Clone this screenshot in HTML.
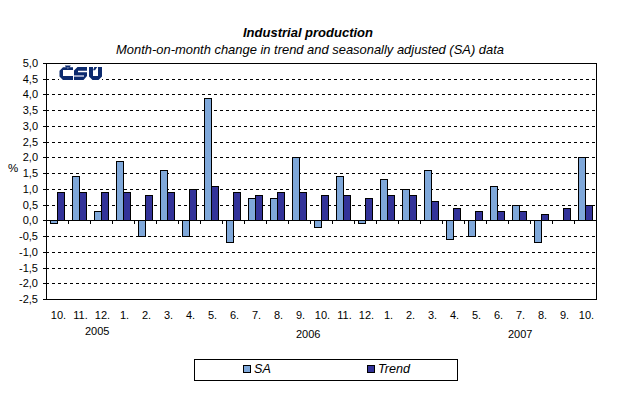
<!DOCTYPE html>
<html><head><meta charset="utf-8"><style>
html,body{margin:0;padding:0;background:#fff;}
body{width:618px;height:396px;position:relative;overflow:hidden;font-family:"Liberation Sans",sans-serif;color:#000;}
svg{position:absolute;left:0;top:0;}
.t{position:absolute;left:0;width:618px;text-align:center;white-space:nowrap;}
#title{top:25px;font-size:13px;font-weight:bold;font-style:italic;line-height:15px;left:-1px}
#sub{top:42px;font-size:12.93px;font-style:italic;line-height:15px;left:1px}
.yl{position:absolute;left:0;width:38px;text-align:right;font-size:11px;line-height:12px;}
.xl{position:absolute;top:309px;width:30px;text-align:center;font-size:11px;line-height:12px;}
.yr{position:absolute;top:325px;font-size:11px;line-height:12px;}
#pct{position:absolute;left:8px;top:162px;font-size:11.5px;line-height:12px;}
#legend{position:absolute;left:194px;top:359px;width:262px;height:20px;border:1px solid #000;box-sizing:content-box;}
.sw{position:absolute;top:5px;width:6px;height:6px;border:1px solid #000;}
.lt{position:absolute;top:2px;font-size:12.6px;font-style:italic;line-height:14px;}
</style></head><body>
<svg width="618" height="396" shape-rendering="crispEdges">
<line x1="46" y1="79.5" x2="596" y2="79.5" stroke="#000" stroke-dasharray="3 3"/>
<line x1="46" y1="94.5" x2="596" y2="94.5" stroke="#000" stroke-dasharray="3 3"/>
<line x1="46" y1="110.5" x2="596" y2="110.5" stroke="#000" stroke-dasharray="3 3"/>
<line x1="46" y1="126.5" x2="596" y2="126.5" stroke="#000" stroke-dasharray="3 3"/>
<line x1="46" y1="142.5" x2="596" y2="142.5" stroke="#000" stroke-dasharray="3 3"/>
<line x1="46" y1="157.5" x2="596" y2="157.5" stroke="#000" stroke-dasharray="3 3"/>
<line x1="46" y1="173.5" x2="596" y2="173.5" stroke="#000" stroke-dasharray="3 3"/>
<line x1="46" y1="189.5" x2="596" y2="189.5" stroke="#000" stroke-dasharray="3 3"/>
<line x1="46" y1="205.5" x2="596" y2="205.5" stroke="#000" stroke-dasharray="3 3"/>
<line x1="46" y1="236.5" x2="596" y2="236.5" stroke="#000" stroke-dasharray="3 3"/>
<line x1="46" y1="252.5" x2="596" y2="252.5" stroke="#000" stroke-dasharray="3 3"/>
<line x1="46" y1="268.5" x2="596" y2="268.5" stroke="#000" stroke-dasharray="3 3"/>
<line x1="46" y1="283.5" x2="596" y2="283.5" stroke="#000" stroke-dasharray="3 3"/>
<line x1="43" y1="63.5" x2="46" y2="63.5" stroke="#000"/>
<line x1="43" y1="79.5" x2="46" y2="79.5" stroke="#000"/>
<line x1="43" y1="94.5" x2="46" y2="94.5" stroke="#000"/>
<line x1="43" y1="110.5" x2="46" y2="110.5" stroke="#000"/>
<line x1="43" y1="126.5" x2="46" y2="126.5" stroke="#000"/>
<line x1="43" y1="142.5" x2="46" y2="142.5" stroke="#000"/>
<line x1="43" y1="157.5" x2="46" y2="157.5" stroke="#000"/>
<line x1="43" y1="173.5" x2="46" y2="173.5" stroke="#000"/>
<line x1="43" y1="189.5" x2="46" y2="189.5" stroke="#000"/>
<line x1="43" y1="205.5" x2="46" y2="205.5" stroke="#000"/>
<line x1="43" y1="220.5" x2="46" y2="220.5" stroke="#000"/>
<line x1="43" y1="236.5" x2="46" y2="236.5" stroke="#000"/>
<line x1="43" y1="252.5" x2="46" y2="252.5" stroke="#000"/>
<line x1="43" y1="268.5" x2="46" y2="268.5" stroke="#000"/>
<line x1="43" y1="283.5" x2="46" y2="283.5" stroke="#000"/>
<line x1="43" y1="299.5" x2="46" y2="299.5" stroke="#000"/>
<rect x="50.5" y="220.5" width="7" height="3" fill="#7FA8DA" stroke="#000"/>
<rect x="57.5" y="192.5" width="7" height="28" fill="#333399" stroke="#000"/>
<rect x="72.5" y="176.5" width="7" height="44" fill="#7FA8DA" stroke="#000"/>
<rect x="79.5" y="192.5" width="7" height="28" fill="#333399" stroke="#000"/>
<rect x="94.5" y="211.5" width="7" height="9" fill="#7FA8DA" stroke="#000"/>
<rect x="101.5" y="192.5" width="7" height="28" fill="#333399" stroke="#000"/>
<rect x="116.5" y="161.5" width="7" height="59" fill="#7FA8DA" stroke="#000"/>
<rect x="123.5" y="192.5" width="7" height="28" fill="#333399" stroke="#000"/>
<rect x="138.5" y="220.5" width="7" height="16" fill="#7FA8DA" stroke="#000"/>
<rect x="145.5" y="195.5" width="7" height="25" fill="#333399" stroke="#000"/>
<rect x="160.5" y="170.5" width="7" height="50" fill="#7FA8DA" stroke="#000"/>
<rect x="167.5" y="192.5" width="7" height="28" fill="#333399" stroke="#000"/>
<rect x="182.5" y="220.5" width="7" height="16" fill="#7FA8DA" stroke="#000"/>
<rect x="189.5" y="189.5" width="7" height="31" fill="#333399" stroke="#000"/>
<rect x="204.5" y="98.5" width="7" height="122" fill="#7FA8DA" stroke="#000"/>
<rect x="211.5" y="186.5" width="7" height="34" fill="#333399" stroke="#000"/>
<rect x="226.5" y="220.5" width="7" height="22" fill="#7FA8DA" stroke="#000"/>
<rect x="233.5" y="192.5" width="7" height="28" fill="#333399" stroke="#000"/>
<rect x="248.5" y="198.5" width="7" height="22" fill="#7FA8DA" stroke="#000"/>
<rect x="255.5" y="195.5" width="7" height="25" fill="#333399" stroke="#000"/>
<rect x="270.5" y="198.5" width="7" height="22" fill="#7FA8DA" stroke="#000"/>
<rect x="277.5" y="192.5" width="7" height="28" fill="#333399" stroke="#000"/>
<rect x="292.5" y="157.5" width="7" height="63" fill="#7FA8DA" stroke="#000"/>
<rect x="299.5" y="192.5" width="7" height="28" fill="#333399" stroke="#000"/>
<rect x="314.5" y="220.5" width="7" height="7" fill="#7FA8DA" stroke="#000"/>
<rect x="321.5" y="195.5" width="7" height="25" fill="#333399" stroke="#000"/>
<rect x="336.5" y="176.5" width="7" height="44" fill="#7FA8DA" stroke="#000"/>
<rect x="343.5" y="195.5" width="7" height="25" fill="#333399" stroke="#000"/>
<rect x="358.5" y="220.5" width="7" height="3" fill="#7FA8DA" stroke="#000"/>
<rect x="365.5" y="198.5" width="7" height="22" fill="#333399" stroke="#000"/>
<rect x="380.5" y="179.5" width="7" height="41" fill="#7FA8DA" stroke="#000"/>
<rect x="387.5" y="195.5" width="7" height="25" fill="#333399" stroke="#000"/>
<rect x="402.5" y="189.5" width="7" height="31" fill="#7FA8DA" stroke="#000"/>
<rect x="409.5" y="195.5" width="7" height="25" fill="#333399" stroke="#000"/>
<rect x="424.5" y="170.5" width="7" height="50" fill="#7FA8DA" stroke="#000"/>
<rect x="431.5" y="201.5" width="7" height="19" fill="#333399" stroke="#000"/>
<rect x="446.5" y="220.5" width="7" height="19" fill="#7FA8DA" stroke="#000"/>
<rect x="453.5" y="208.5" width="7" height="12" fill="#333399" stroke="#000"/>
<rect x="468.5" y="220.5" width="7" height="16" fill="#7FA8DA" stroke="#000"/>
<rect x="475.5" y="211.5" width="7" height="9" fill="#333399" stroke="#000"/>
<rect x="490.5" y="186.5" width="7" height="34" fill="#7FA8DA" stroke="#000"/>
<rect x="497.5" y="211.5" width="7" height="9" fill="#333399" stroke="#000"/>
<rect x="512.5" y="205.5" width="7" height="15" fill="#7FA8DA" stroke="#000"/>
<rect x="519.5" y="211.5" width="7" height="9" fill="#333399" stroke="#000"/>
<rect x="534.5" y="220.5" width="7" height="22" fill="#7FA8DA" stroke="#000"/>
<rect x="541.5" y="214.5" width="7" height="6" fill="#333399" stroke="#000"/>
<rect x="563.5" y="208.5" width="7" height="12" fill="#333399" stroke="#000"/>
<rect x="578.5" y="157.5" width="7" height="63" fill="#7FA8DA" stroke="#000"/>
<rect x="585.5" y="205.5" width="7" height="15" fill="#333399" stroke="#000"/>
<line x1="46" y1="220.5" x2="596" y2="220.5" stroke="#000"/>
<line x1="68.5" y1="220" x2="68.5" y2="224" stroke="#000"/>
<line x1="90.5" y1="220" x2="90.5" y2="224" stroke="#000"/>
<line x1="112.5" y1="220" x2="112.5" y2="224" stroke="#000"/>
<line x1="134.5" y1="220" x2="134.5" y2="224" stroke="#000"/>
<line x1="156.5" y1="220" x2="156.5" y2="224" stroke="#000"/>
<line x1="178.5" y1="220" x2="178.5" y2="224" stroke="#000"/>
<line x1="200.5" y1="220" x2="200.5" y2="224" stroke="#000"/>
<line x1="222.5" y1="220" x2="222.5" y2="224" stroke="#000"/>
<line x1="244.5" y1="220" x2="244.5" y2="224" stroke="#000"/>
<line x1="266.5" y1="220" x2="266.5" y2="224" stroke="#000"/>
<line x1="288.5" y1="220" x2="288.5" y2="224" stroke="#000"/>
<line x1="310.5" y1="220" x2="310.5" y2="224" stroke="#000"/>
<line x1="332.5" y1="220" x2="332.5" y2="224" stroke="#000"/>
<line x1="354.5" y1="220" x2="354.5" y2="224" stroke="#000"/>
<line x1="376.5" y1="220" x2="376.5" y2="224" stroke="#000"/>
<line x1="398.5" y1="220" x2="398.5" y2="224" stroke="#000"/>
<line x1="420.5" y1="220" x2="420.5" y2="224" stroke="#000"/>
<line x1="442.5" y1="220" x2="442.5" y2="224" stroke="#000"/>
<line x1="464.5" y1="220" x2="464.5" y2="224" stroke="#000"/>
<line x1="486.5" y1="220" x2="486.5" y2="224" stroke="#000"/>
<line x1="508.5" y1="220" x2="508.5" y2="224" stroke="#000"/>
<line x1="530.5" y1="220" x2="530.5" y2="224" stroke="#000"/>
<line x1="552.5" y1="220" x2="552.5" y2="224" stroke="#000"/>
<line x1="574.5" y1="220" x2="574.5" y2="224" stroke="#000"/>
<rect x="46.5" y="63.5" width="550" height="236" fill="none" stroke="#000"/>
<g id="logo" fill="#0C2A6E" shape-rendering="geometricPrecision">
<rect x="59" y="64" width="43" height="16" fill="#fff" shape-rendering="crispEdges"/>
<path d="M63,67.3 H73 V70 H63 V76 H73 V80 H63 L59.5,76.5 V70.8 Z"/>
<path d="M64.8,65.6 H70.8 L69.6,67.5 H66 Z"/>
<path d="M66.8,67.6 H69 L67.9,69 Z" fill="#8A96BE"/>
<path d="M77.5,67 H87 V70.8 H78 V72.2 H87 V76 L83.5,80 H74 V76.7 H84 V75.1 H74 V70.5 Z"/>
<rect x="74" y="75.1" width="10" height="1.6" fill="#8A96BE"/>
<path d="M89,67 H93 V76 H98 V67 H102 V76.5 L98.5,80 H92.5 L89,76.5 Z"/>
<path d="M94.4,67 H97.3 L95,70.2 H93 Z"/>
</g>
</svg>
<div class="t" id="title">Industrial production</div>
<div class="t" id="sub">Month-on-month change in trend and seasonally adjusted (SA) data</div>
<div class="yl" style="top:57px">5,0</div><div class="yl" style="top:73px">4,5</div><div class="yl" style="top:88px">4,0</div><div class="yl" style="top:104px">3,5</div><div class="yl" style="top:120px">3,0</div><div class="yl" style="top:136px">2,5</div><div class="yl" style="top:151px">2,0</div><div class="yl" style="top:167px">1,5</div><div class="yl" style="top:183px">1,0</div><div class="yl" style="top:199px">0,5</div><div class="yl" style="top:214px">0,0</div><div class="yl" style="top:230px">-0,5</div><div class="yl" style="top:246px">-1,0</div><div class="yl" style="top:262px">-1,5</div><div class="yl" style="top:277px">-2,0</div><div class="yl" style="top:293px">-2,5</div>
<div id="pct">%</div>
<div class="xl" style="left:43.5px">10.</div><div class="xl" style="left:65.5px">11.</div><div class="xl" style="left:87.5px">12.</div><div class="xl" style="left:109.5px">1.</div><div class="xl" style="left:131.5px">2.</div><div class="xl" style="left:153.5px">3.</div><div class="xl" style="left:175.5px">4.</div><div class="xl" style="left:197.5px">5.</div><div class="xl" style="left:219.5px">6.</div><div class="xl" style="left:241.5px">7.</div><div class="xl" style="left:263.5px">8.</div><div class="xl" style="left:285.5px">9.</div><div class="xl" style="left:307.5px">10.</div><div class="xl" style="left:329.5px">11.</div><div class="xl" style="left:351.5px">12.</div><div class="xl" style="left:373.5px">1.</div><div class="xl" style="left:395.5px">2.</div><div class="xl" style="left:417.5px">3.</div><div class="xl" style="left:439.5px">4.</div><div class="xl" style="left:461.5px">5.</div><div class="xl" style="left:483.5px">6.</div><div class="xl" style="left:505.5px">7.</div><div class="xl" style="left:527.5px">8.</div><div class="xl" style="left:549.5px">9.</div><div class="xl" style="left:571.5px">10.</div>
<div class="yr" style="left:85px">2005</div>
<div class="yr" style="left:296px;top:328px">2006</div>
<div class="yr" style="left:508px;top:328px">2007</div>
<div id="legend">
<div class="sw" style="left:48px;background:#7FA8DA"></div><div class="lt" style="left:59px">SA</div>
<div class="sw" style="left:172px;background:#333399"></div><div class="lt" style="left:183px">Trend</div>
</div>
</body></html>
